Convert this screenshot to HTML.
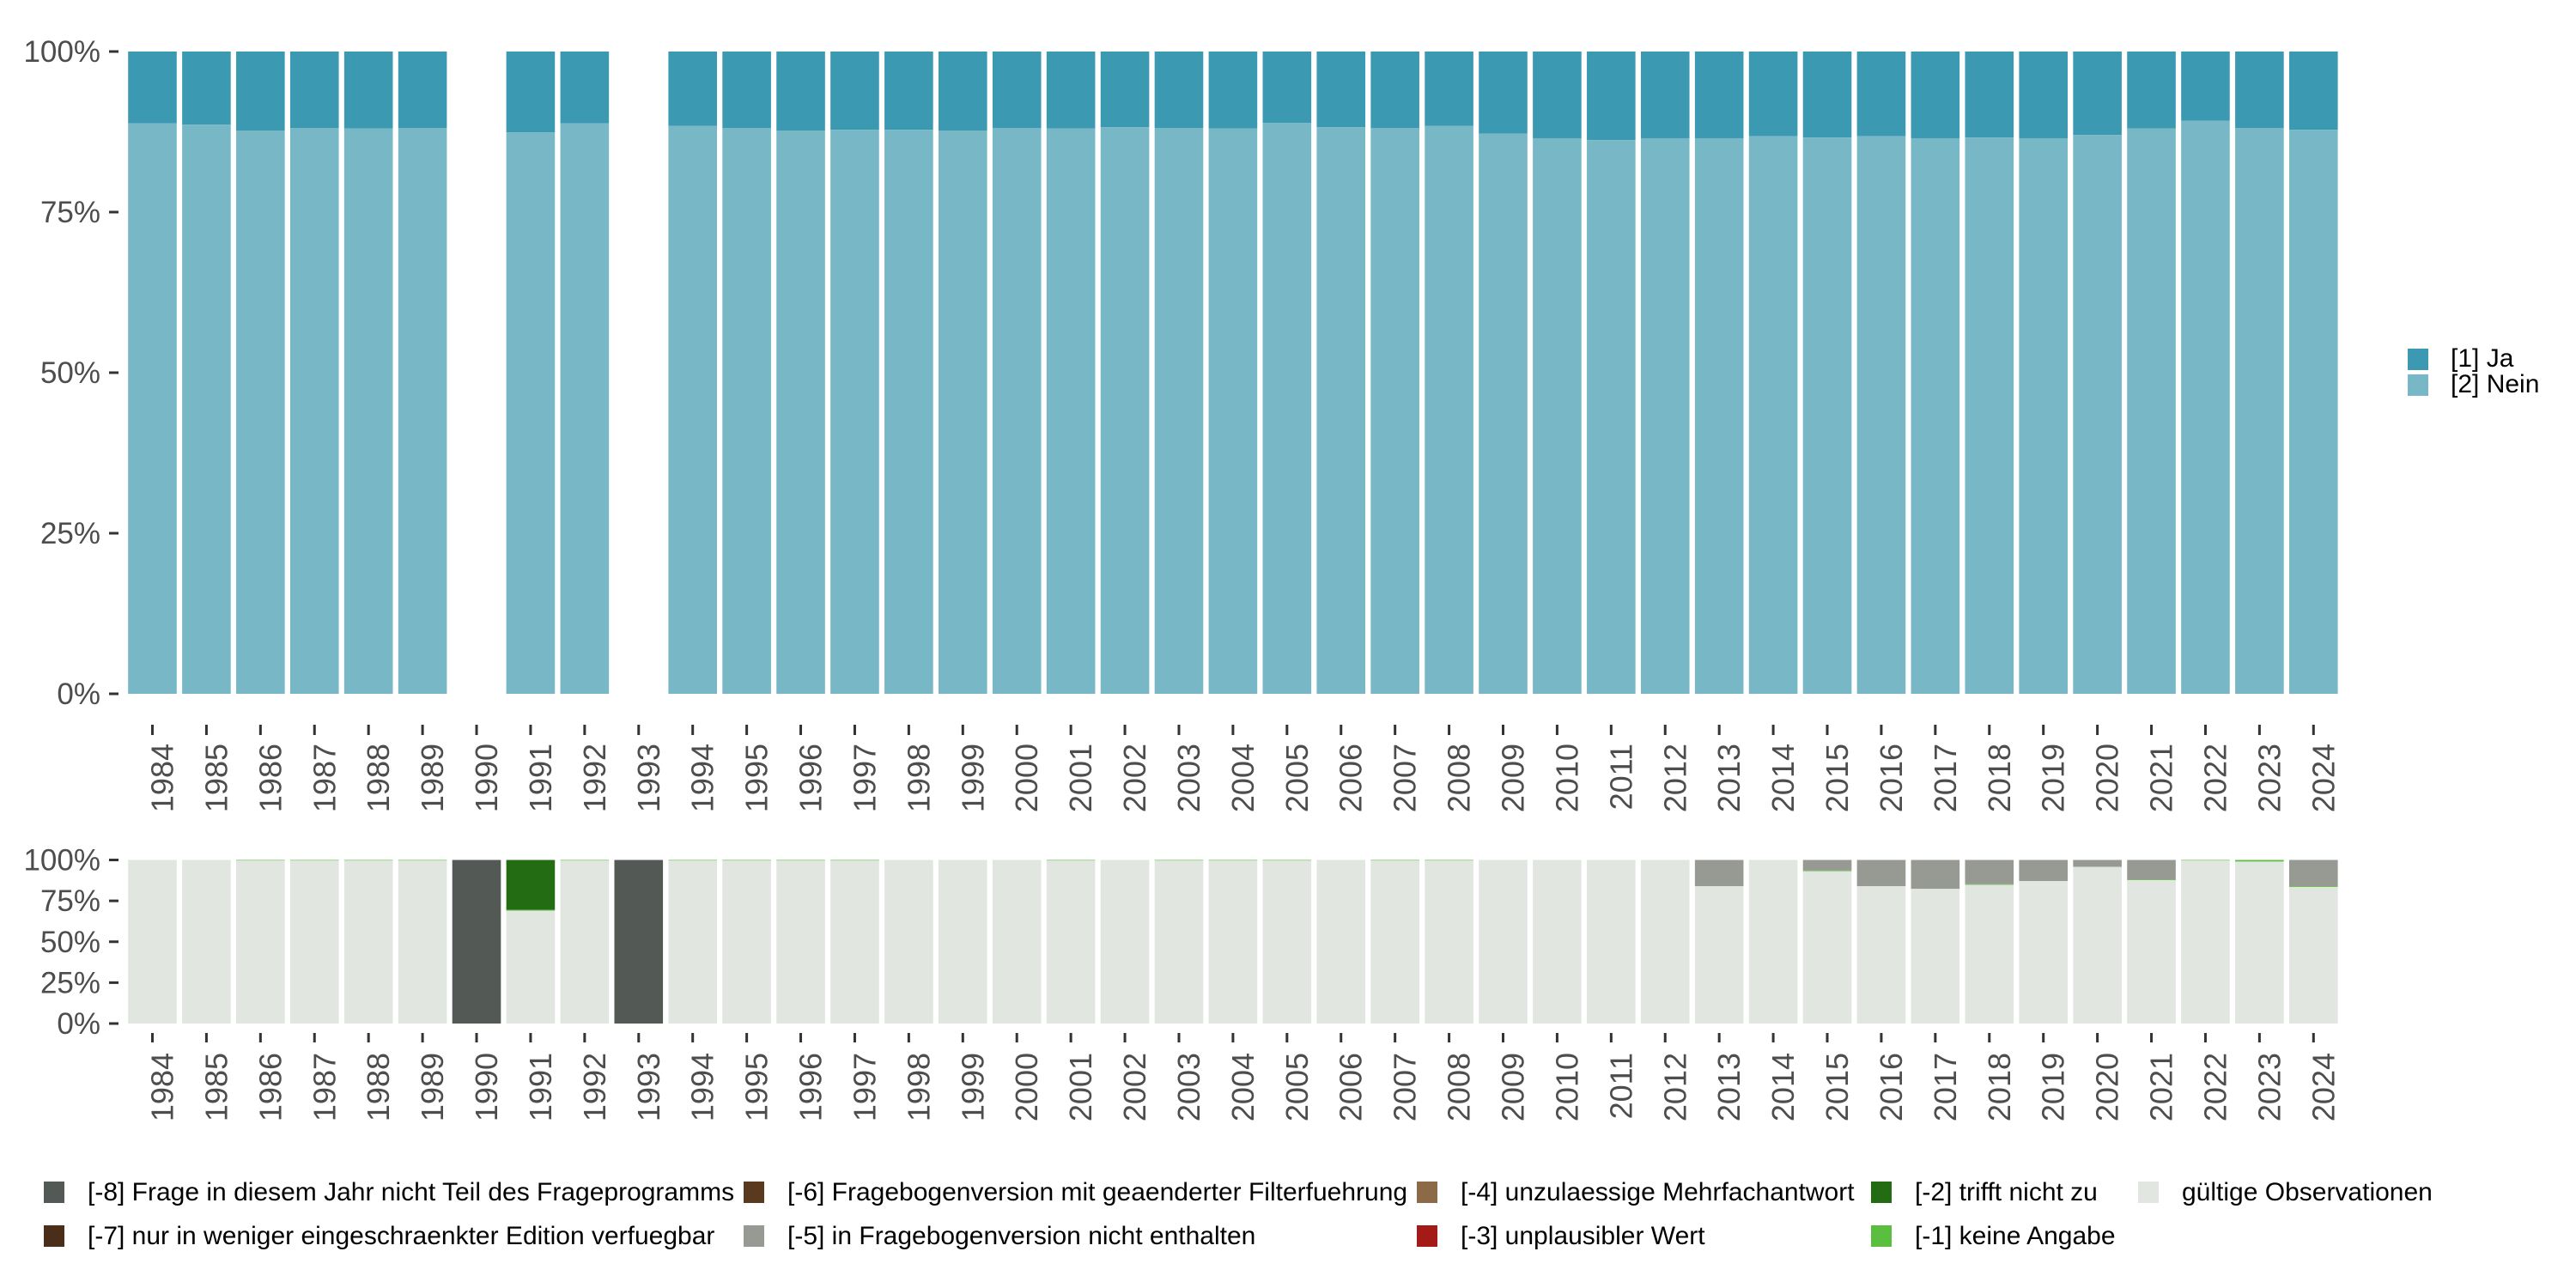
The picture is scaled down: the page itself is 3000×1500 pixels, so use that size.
<!DOCTYPE html>
<html><head><meta charset="utf-8"><style>
html,body{margin:0;padding:0;background:#fff;}
svg{display:block;font-family:"Liberation Sans",sans-serif;}
</style></head><body>
<svg id="chart" width="3000" height="1500" viewBox="0 0 3000 1500" xmlns="http://www.w3.org/2000/svg">
<g id="gtop"></g>
<g id="gbot"></g>
<g id="gleg"></g>
</svg>
<script>
const years = [1984,1985,1986,1987,1988,1989,1990,1991,1992,1993,1994,1995,1996,1997,1998,1999,2000,2001,2002,2003,2004,2005,2006,2007,2008,2009,2010,2011,2012,2013,2014,2015,2016,2017,2018,2019,2020,2021,2022,2023,2024];
const jaPct = [11.2,11.4,12.3,11.9,12.0,11.9,null,12.6,11.2,null,11.6,11.9,12.3,12.2,12.2,12.3,11.9,12.0,11.8,11.9,12.0,11.1,11.8,11.9,11.6,12.8,13.5,13.8,13.5,13.5,13.2,13.4,13.2,13.5,13.4,13.5,13.0,12.0,10.8,11.9,12.2];
const miss8 = [0,0,0,0,0,0,100,0,0,100,0,0,0,0,0,0,0,0,0,0,0,0,0,0,0,0,0,0,0,0,0,0,0,0,0,0,0,0,0,0,0];
const miss5 = [0,0,0,0,0,0,0,0,0,0,0,0,0,0,0,0,0,0,0,0,0,0,0,0,0,0,0,0,0,16.0,0,6.5,16.0,17.7,14.8,12.9,4.2,12.0,0,0,16.0];
const miss2 = [0,0,0,0,0,0,0,30.5,0,0,0,0,0,0,0,0,0,0,0,0,0,0,0,0,0,0,0,0,0,0,0,0,0,0,0,0,0,0,0,0,0];
const miss1 = [0,0,0.4,0.4,0.4,0.4,0,0.5,0.4,0,0.4,0.4,0.4,0.4,0,0,0,0.4,0,0.4,0.4,0.4,0,0.4,0.4,0,0,0,0,0,0,0.4,0,0,0.4,0,0,0.4,0.4,1.0,0.5];
const pctTicks = [0,25,50,75,100];
const pctLabels = ["0%","25%","50%","75%","100%"];

const NS="http://www.w3.org/2000/svg";
function mk(parent,tag,attrs,text){const e=document.createElementNS(NS,tag);for(const k in attrs)e.setAttribute(k,attrs[k]);if(text!==undefined)e.textContent=text;parent.appendChild(e);return e;}
const xc = i => 177.5 + i*62.92;
const BW = 56.6;
const yTop = v => 808 - v*7.48;
const yBot = v => 1192 - v*1.905;
const gTop=document.getElementById('gtop'), gBot=document.getElementById('gbot'), gLeg=document.getElementById('gleg');

function axes(g, yf, tickY0, tickY1, labY, name){
  pctTicks.forEach((t,k)=>{
    const tk=mk(g,'rect',{x:127,y:yf(t)-1.5,width:11,height:3,fill:'#333'});
    
    
    const lb=mk(g,'text',{x:117,y:yf(t)+12,'text-anchor':'end','font-size':35,fill:'#4d4d4d'},pctLabels[k]);
    
    
  });
  years.forEach((yr,i)=>{
    const tk=mk(g,'rect',{x:xc(i)-1.5,y:tickY0,width:3,height:tickY1-tickY0,fill:'#333'});
    
    
    const lb=mk(g,'text',{x:0,y:0,'text-anchor':'end','font-size':36,fill:'#4d4d4d',transform:`translate(${xc(i)+24},${labY}) rotate(-90)`},String(yr));
    
    
  });
}

years.forEach((yr,i)=>{
  const ja=jaPct[i]; if(ja===null) return;
  const nein=100-ja;
  const r1=mk(gTop,'rect',{x:xc(i)-BW/2,y:yTop(100),width:BW,height:yTop(nein)-yTop(100),fill:'#3b9ab2'});
  
  
  const r2=mk(gTop,'rect',{x:xc(i)-BW/2,y:yTop(nein),width:BW,height:yTop(0)-yTop(nein),fill:'#78b7c5'});
  
  
});
axes(gTop,yTop,844,856,866,'top');

const segs=[[miss8,'#535a55','m8'],[miss5,'#969a93','m5'],[miss2,'#236c14','m2'],[miss1,'#5abf3f','m1']];
years.forEach((yr,i)=>{
  let cum=100;
  segs.forEach(([arr,col,nm])=>{
    const v=arr[i]; if(!v) return;
    const r=mk(gBot,'rect',{x:xc(i)-BW/2,y:yBot(cum),width:BW,height:yBot(cum-v)-yBot(cum),fill:col});
    
    
    cum-=v;
  });
  if(cum>0){
    const r=mk(gBot,'rect',{x:xc(i)-BW/2,y:yBot(cum),width:BW,height:yBot(0)-yBot(cum),fill:'#e1e6e1'});
    
    
  }
});
axes(gBot,yBot,1203,1214,1226,'bottom');

[['[1] Ja','#3b9ab2',406],['[2] Nein','#78b7c5',436]].forEach(([t,c,y])=>{
  const k=mk(gLeg,'rect',{x:2804,y:y,width:24,height:25,fill:c});
  
  
  const tx=mk(gLeg,'text',{x:2854,y:y+21,'font-size':30,fill:'#000'},t);
  
  
});
const bl=[
 ['[-8] Frage in diesem Jahr nicht Teil des Frageprogramms','#535a55',51,1376],
 ['[-7] nur in weniger eingeschraenkter Edition verfuegbar','#4b2e19',51,1427],
 ['[-6] Fragebogenversion mit geaenderter Filterfuehrung','#5a3a1f',866,1376],
 ['[-5] in Fragebogenversion nicht enthalten','#969a93',866,1427],
 ['[-4] unzulaessige Mehrfachantwort','#8c6a47',1650,1376],
 ['[-3] unplausibler Wert','#a31a17',1650,1427],
 ['[-2] trifft nicht zu','#236c14',2179,1376],
 ['[-1] keine Angabe','#5abf3f',2179,1427],
 ['gültige Observationen','#e1e6e1',2490,1376]
];
bl.forEach(([t,c,x,y])=>{
  const k=mk(gLeg,'rect',{x:x,y:y,width:24,height:25,fill:c});
  
  
  const tx=mk(gLeg,'text',{x:x+51,y:y+22,'font-size':30,fill:'#000'},t);
  
  
});
</script>
</body></html>
